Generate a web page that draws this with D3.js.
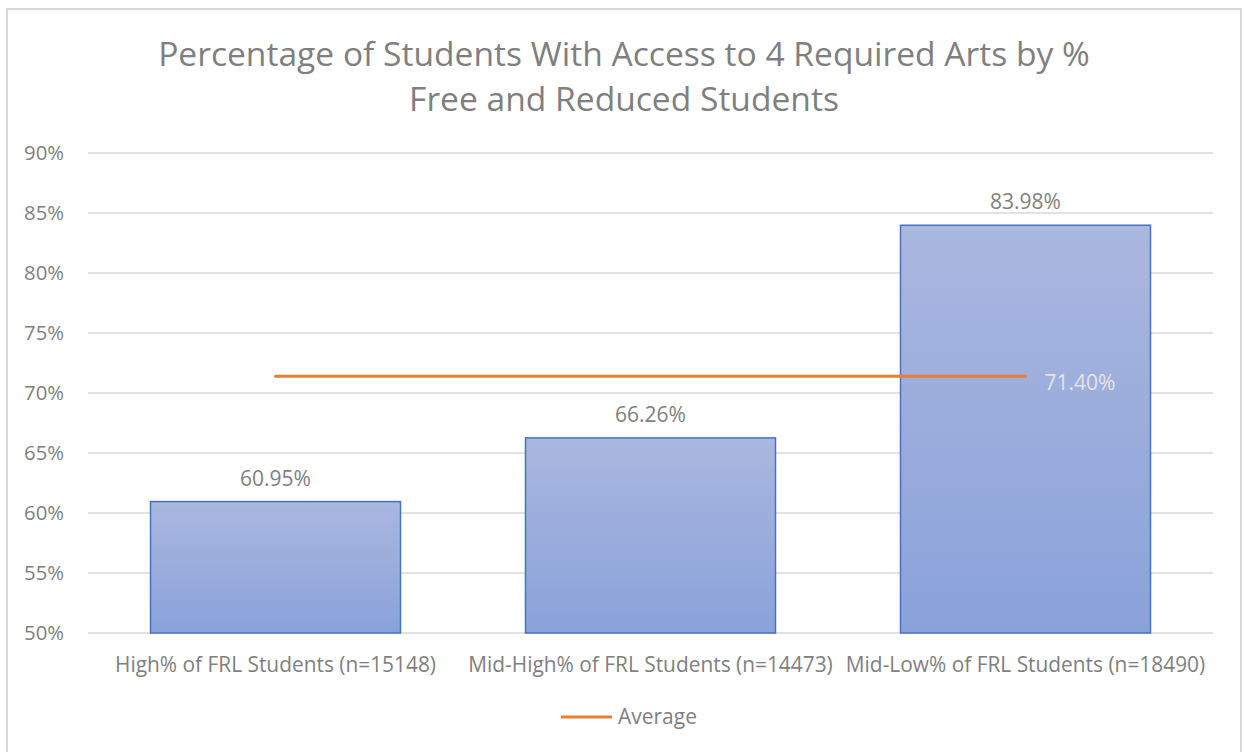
<!DOCTYPE html>
<html>
<head>
<meta charset="utf-8">
<script src="https://cdn.jsdelivr.net/npm/d3@7"></script>
<style>
  html, body { margin: 0; padding: 0; background: #ffffff; }
  svg { display: block; }
  text { font-family: "Open Sans", "DejaVu Sans", sans-serif; fill: #7f7f7f; }
</style>
</head>
<body>
<svg id="chart" width="1244" height="752"></svg>
<script>
// Chart data
const titleLines = ["Percentage of Students With Access to 4 Required Arts by %", "Free and Reduced Students"];
const categories = ["High% of FRL Students (n=15148)", "Mid-High% of FRL Students (n=14473)", "Mid-Low% of FRL Students (n=18490)"];
const shares = [60.95, 66.26, 83.98];
const averageValue = [71.40, 71.40, 71.40];
const yTicks = [50, 55, 60, 65, 70, 75, 80, 85, 90];
const legendLabel = "Average";

const svg = d3.select("#chart");
const plot = { left: 88, right: 1213, top: 153, bottom: 633 };

// Fit a text element to a target width by adjusting its font size
function fitWidth(sel, target) {
  let size = null;
  sel.each(function () {
    const fs = parseFloat(this.getAttribute("font-size"));
    const w = this.getComputedTextLength();
    if (w > 0) { size = (fs * target / w).toFixed(2); this.setAttribute("font-size", size); }
  });
  return size;
}

// Chart frame
svg.append("rect")
  .attr("x", 7).attr("y", 9)
  .attr("width", 1234).attr("height", 760)
  .attr("fill", "#ffffff")
  .attr("stroke", "#d9d9d9").attr("stroke-width", 2);

// Gradient for bar fill
const defs = svg.append("defs");
const grad = defs.append("linearGradient").attr("id", "barFill")
  .attr("x1", 0).attr("y1", 0).attr("x2", 0).attr("y2", 1);
grad.append("stop").attr("offset", "0%").attr("stop-color", "#aab7df");
grad.append("stop").attr("offset", "100%").attr("stop-color", "#8aa2da");

// Scales
const x = d3.scaleBand().domain(categories).range([plot.left, plot.right]).paddingInner(1 / 3).paddingOuter(1 / 6);
const y = d3.scaleLinear().domain([50, 90]).range([plot.bottom, plot.top]);

// Gridlines
svg.append("g").selectAll("line").data(yTicks).join("line")
  .attr("x1", plot.left).attr("x2", plot.right)
  .attr("y1", d => y(d)).attr("y2", d => y(d))
  .attr("stroke", "#d9d9d9").attr("stroke-width", 1.5);

// Y axis labels
const yAxis = svg.append("g").attr("transform", `translate(${plot.left},0)`)
  .call(d3.axisLeft(y).tickValues(yTicks).tickFormat(d => d + "%").tickSize(0).tickPadding(24));
yAxis.select(".domain").remove();
const yLabels = yAxis.selectAll("text")
  .attr("font-family", "'Open Sans', sans-serif")
  .attr("font-size", 19).attr("fill", "#7f7f7f");
const yFs = fitWidth(yLabels.filter(d => d === 90), 40);
yLabels.attr("font-size", yFs);

// Bars
svg.append("g").selectAll("rect").data(shares).join("rect")
  .attr("x", (d, i) => x(categories[i]))
  .attr("y", d => y(d))
  .attr("width", x.bandwidth())
  .attr("height", d => y(50) - y(d))
  .attr("fill", "url(#barFill)")
  .attr("stroke", "#4472c4").attr("stroke-width", 1.5);

// Bar value labels
const valLabels = svg.append("g").selectAll("text").data(shares).join("text")
  .attr("x", (d, i) => x(categories[i]) + x.bandwidth() / 2)
  .attr("y", d => y(d) - 16)
  .attr("text-anchor", "middle")
  .attr("font-size", 19)
  .text(d => d.toFixed(2) + "%");
const valFs = fitWidth(valLabels.filter((d, i) => i === 0), 71);
valLabels.attr("font-size", valFs);

// Average line
const cx = (d, i) => x(categories[i]) + x.bandwidth() / 2;
const line = d3.line().x((d, i) => cx(d, i)).y(d => y(d));
svg.append("path").datum(averageValue)
  .attr("d", line)
  .attr("fill", "none")
  .attr("stroke", "#ed7d31").attr("stroke-width", 3)
  .attr("stroke-linecap", "round");

// Average value label at the last point
const lastIdx = averageValue.length - 1;
svg.append("text")
  .attr("x", cx(averageValue[lastIdx], lastIdx) + 19)
  .attr("y", y(averageValue[lastIdx]) + 14)
  .attr("font-size", valFs)
  .style("fill", "#e4e4e4")
  .text(averageValue[lastIdx].toFixed(2) + "%");

// Category labels
const catText = svg.append("g").selectAll("text").data(categories).join("text")
  .attr("x", d => x(d) + x.bandwidth() / 2)
  .attr("y", 672)
  .attr("text-anchor", "middle")
  .attr("font-size", 18)
  .text(d => d);
const catFs = fitWidth(catText.filter((d, i) => i === 0), 321);
catText.attr("font-size", catFs);

// Title
const title = svg.append("g").selectAll("text").data(titleLines).join("text")
  .attr("x", 624)
  .attr("y", (d, i) => 66 + i * 45)
  .attr("text-anchor", "middle")
  .attr("font-size", 28)
  .text(d => d);
const titleFs = fitWidth(title.filter((d, i) => i === 0), 932);
title.attr("font-size", titleFs);

// Legend
svg.append("line")
  .attr("x1", 561).attr("x2", 612)
  .attr("y1", 717).attr("y2", 717)
  .attr("stroke", "#ed7d31").attr("stroke-width", 3);
const leg = svg.append("text")
  .attr("x", 618).attr("y", 724)
  .attr("font-size", 18)
  .text(legendLabel);
fitWidth(leg, 79);
</script>
</body>
</html>
